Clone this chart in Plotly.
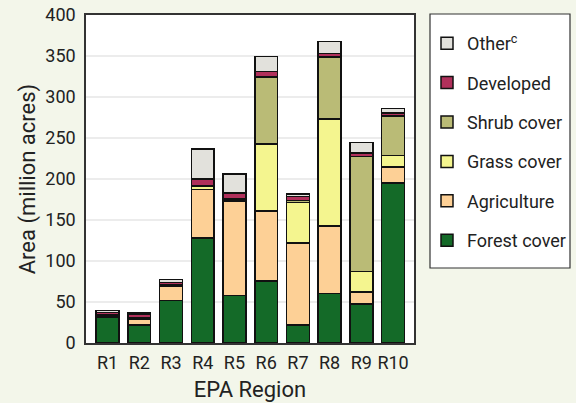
import plotly.graph_objects as go

regions = ["R1", "R2", "R3", "R4", "R5", "R6", "R7", "R8", "R9", "R10"]
forest = [31, 22, 52, 128, 58, 75.5, 22, 60.5, 47.7, 195.3]
agriculture = [2, 7.5, 17, 59, 115, 85.5, 100, 82.4, 14.5, 19.5]
grass = [0.7, 0.5, 1, 4, 1, 81.5, 49.5, 130, 25, 14]
shrub = [0.5, 0.5, 1, 0.5, 1.5, 82, 2, 76, 140, 48]
developed = [3, 4, 3, 8.5, 7.5, 6.5, 5, 4, 4.5, 3.5]
other = [2.5, 2, 3.5, 36.5, 23, 18.5, 3, 14.5, 12.8, 5.7]

series = [
    ("Forest cover", forest, "#146a28"),
    ("Agriculture", agriculture, "#fdd096"),
    ("Grass cover", grass, "#f4f58f"),
    ("Shrub cover", shrub, "#babb76"),
    ("Developed", developed, "#b0305b"),
    ("Other<sup>c</sup>", other, "#e2e1dc"),
]

FONT = "Roboto, Liberation Sans, sans-serif"
W, H = 576, 403

fig = go.Figure()
for i, (name, vals, color) in enumerate(series):
    fig.add_trace(go.Bar(
        x=list(range(len(regions))), y=vals, name=name,
        marker=dict(color=color, line=dict(color="#111111", width=1.5)),
        width=0.72, legendgroup=f"g{i}", legendrank=len(series) - i,
    ))

L, R, T, B = 86, 414, 15, 343

fig.add_shape(type="rect", xref="paper", yref="paper",
              x0=(430 - L) / (R - L), x1=(570 - L) / (R - L),
              y0=(B - 268) / (B - T), y1=(B - 14) / (B - T),
              line=dict(color="#333333", width=1.2), fillcolor="white", layer="below")

fig.update_layout(
    width=W, height=H,
    margin=dict(l=L, r=W - R, t=T, b=H - B, autoexpand=False),
    paper_bgcolor="#f3f6ea", plot_bgcolor="white",
    barmode="stack",
    font=dict(family=FONT, size=18, color="#222222"),
    showlegend=True,
    legend=dict(
        xref="container", yref="container",
        x=427 / W, y=1 - 25 / H, xanchor="left", yanchor="top",
        traceorder="grouped", tracegroupgap=13, maxheight=380,
        bgcolor="rgba(0,0,0,0)", borderwidth=0,
        font=dict(family=FONT, size=18, color="#222222"),
        itemwidth=30,
    ),
    xaxis=dict(
        tickmode="array", tickvals=list(range(len(regions))), ticktext=regions,
        range=[-0.68, 9.66], showline=True, linecolor="#333333", linewidth=1.5,
        mirror=True, ticks="", showgrid=False, automargin=False,
        ticklabelstandoff=3,
        title=dict(text="EPA Region", standoff=9),
    ),
    yaxis=dict(
        range=[0, 400], dtick=50, showline=True, linecolor="#333333", linewidth=1.5,
        mirror=True, ticks="", gridcolor="#ececec", gridwidth=1.5,
        ticklabelstandoff=5, automargin=False,
        title=dict(text="Area (million acres)", standoff=4),
        zeroline=False,
    ),
)

fig.write_html(
    "out.html",
    config={"displayModeBar": False},
    post_script="document.body.style.margin='0';document.body.style.background='#f3f6ea';",
)
